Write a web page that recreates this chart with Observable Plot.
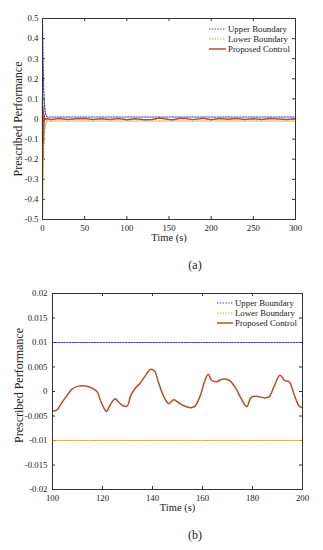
<!DOCTYPE html>
<html><head><meta charset="utf-8">
<script src="https://cdn.jsdelivr.net/npm/d3@7"></script>
<script src="https://cdn.jsdelivr.net/npm/@observablehq/plot@0.6"></script>
<style>
body{margin:0;background:#fff;}
#wrap{position:relative;width:323px;height:550px;font-family:"Liberation Serif","Times New Roman",serif;color:#222;}
.panel{position:absolute;left:0;}
.cap{position:absolute;font-size:12px;transform:translate(-50%,-50%);white-space:nowrap;}
.legend{position:absolute;font-size:8.8px;line-height:10px;}
.legend div{display:flex;align-items:center;height:10px;white-space:nowrap;}
.legend svg{margin-right:2px;}
</style></head><body><div id="wrap"></div>
<script>
// ---------- data ----------
const seriesNames = ["Upper Boundary", "Lower Boundary", "Proposed Control"];
const seriesColors = ["#3a3acf", "#d9a23a", "#b0502e"];

// Panel (a): 0–300 s
const timeA_bound = [0, 0.5, 1, 1.5, 2, 3, 4, 5, 6, 300];
const upperA = [0.5, 0.34, 0.22, 0.14, 0.09, 0.04, 0.02, 0.013, 0.01, 0.01];
const lowerA = [-0.5, -0.34, -0.22, -0.14, -0.09, -0.04, -0.02, -0.013, -0.01, -0.01];
const timeA_ctrl = [0, 0.3, 0.6, 0.9, 1.2, 1.5, 1.9, 2.4, 3, 4, 6, 10, 20, 30, 40, 50, 60, 70, 80, 90, 100, 110, 121, 130, 139, 150, 155, 163, 170, 178, 191, 200, 210, 220, 230, 240, 250, 260, 270, 280, 290, 300];
const ctrlA = [0.1, -0.2, 0.06, -0.12, 0.04, -0.05, 0.02, -0.01, 0.004, -0.002, 0.001, -0.002, 0.002, -0.003, 0.001, 0.003, -0.002, 0.001, -0.003, 0.002, -0.004, 0.001, -0.004, -0.003, 0.0045, -0.0023, -0.0033, 0.0035, 0.0023, -0.0031, 0.0033, -0.0033, 0.002, -0.001, 0.003, -0.002, 0.001, -0.003, 0.002, 0.0, -0.002, 0.001];

// Panel (b): 100–200 s
const timeB_bound = [100, 200];
const upperB = [0.01, 0.01];
const lowerB = [-0.01, -0.01];
const timeB = [100,101.7,103.7,105.7,107.8,110.4,113.1,115.8,117.8,119.1,120.5,121.5,123.1,125.1,126.5,128.2,129.8,131.4,133.2,135.2,137.2,139.2,140.8,142.5,144.5,146.5,148.5,150.5,152.5,155.2,156.8,159,160.8,162.3,163.6,165.6,167.9,170.6,173.3,175.3,177.7,179.5,182,184.6,186.6,188.6,191,192.9,194.7,196.7,198.7,200];
const ctrlB = [-0.0040,-0.0038,-0.0023,-0.0009,0.0005,0.0011,0.0011,0.0007,0.0000,-0.0017,-0.0033,-0.0041,-0.0027,-0.0015,-0.0022,-0.0029,-0.0030,-0.0007,0.0007,0.0018,0.0033,0.0045,0.0042,0.0017,-0.0010,-0.0025,-0.0017,-0.0023,-0.0029,-0.0033,-0.0031,-0.0010,0.0020,0.0035,0.0023,0.0020,0.0025,0.0023,0.0007,-0.0013,-0.0031,-0.0012,-0.0010,-0.0013,-0.0011,0.0010,0.0033,0.0022,0.0020,-0.0007,-0.0030,-0.0033];

const xTicksA = [0, 50, 100, 150, 200, 250, 300];
const yTicksA = [-0.5, -0.4, -0.3, -0.2, -0.1, 0, 0.1, 0.2, 0.3, 0.4, 0.5];
const xTicksB = [100, 120, 140, 160, 180, 200];
const yTicksB = [-0.02, -0.015, -0.01, -0.005, 0, 0.005, 0.01, 0.015, 0.02];

// ---------- drawing ----------
const fmt = d => String(+d.toFixed(4)).replace("\u2212", "-");
const zip = (t, v) => t.map((x, i) => ({t: x, v: v[i]}));

function panel(o) {
  const innerW = 323 - o.ml - o.mr, innerH = o.height - o.mt - o.mb;
  const ax = "#333";
  return Plot.plot({
    width: 323, height: o.height,
    marginTop: o.mt, marginBottom: o.mb, marginLeft: o.ml, marginRight: o.mr,
    style: {fontFamily: "'Liberation Serif', 'Times New Roman', serif", fontSize: "8.8px", background: "white", color: "#222", overflow: "visible"},
    x: {domain: o.xDomain, label: null},
    y: {domain: o.yDomain, label: null},
    marks: [
      Plot.axisX({ticks: o.xTicks, tickSize: 0, tickPadding: o.xPad, tickFormat: fmt, label: null}),
      Plot.axisY({ticks: o.yTicks, tickSize: 0, tickPadding: o.yPad, tickFormat: fmt, label: null}),
      Plot.tickX(o.xTicks, {x: d => d, insetTop: innerH - 3, stroke: ax}),
      Plot.tickX(o.xTicks, {x: d => d, insetBottom: innerH - 3, stroke: ax}),
      Plot.tickY(o.yTicks, {y: d => d, insetRight: innerW - 3, stroke: ax}),
      Plot.tickY(o.yTicks, {y: d => d, insetLeft: innerW - 3, stroke: ax}),
      Plot.line(zip(o.tb, o.up), {x: "t", y: "v", stroke: seriesColors[0], strokeWidth: 1.2, strokeDasharray: "1.4,1.4"}),
      Plot.line(zip(o.tb, o.lo), {x: "t", y: "v", stroke: seriesColors[1], strokeWidth: 1.2, strokeDasharray: "1.4,1.4"}),
      Plot.line(zip(o.tc, o.ctrl), {x: "t", y: "v", stroke: seriesColors[2], strokeWidth: 1.5, curve: o.curve}),
      Plot.frame({stroke: ax, strokeWidth: 1}),
      Plot.text(["Time (s)"], {frameAnchor: "bottom", dy: 21, fontSize: 10.5, text: d => d}),
      Plot.text(["Prescribed Performance"], {frameAnchor: "left", textAnchor: "middle", dx: o.ylabDx, dy: o.ylabDy, rotate: -90, fontSize: 12, text: d => d})
    ]
  });
}

function legend(x, y, lineW) {
  const div = document.createElement("div");
  div.className = "legend";
  div.style.left = x + "px";
  div.style.top = y + "px";
  seriesNames.forEach((name, i) => {
    const row = document.createElement("div");
    const dash = i < 2 ? 'stroke-dasharray="1.4,1.4"' : "";
    const sw = i < 2 ? 1.2 : 1.5;
    row.innerHTML = `<svg width="${lineW}" height="4"><line x1="0" y1="2" x2="${lineW}" y2="2" stroke="${seriesColors[i]}" stroke-width="${sw}" ${dash}/></svg><span>${name}</span>`;
    div.appendChild(row);
  });
  return div;
}

const wrap = document.getElementById("wrap");

const pa = panel({height: 250, mt: 18, mb: 31, ml: 42, mr: 28, xDomain: [0, 300], yDomain: [-0.5, 0.5],
  xTicks: xTicksA, yTicks: yTicksA, xPad: 5, yPad: 4, ylabDx: -24.5, ylabDy: 0,
  tb: timeA_bound, up: upperA, lo: lowerA, tc: timeA_ctrl, ctrl: ctrlA, curve: "linear"});
pa.classList.add("panel"); pa.style.top = "0px";
wrap.appendChild(pa);

const pb = panel({height: 240, mt: 13, mb: 31, ml: 52, mr: 21, xDomain: [100, 200], yDomain: [-0.02, 0.02],
  xTicks: xTicksB, yTicks: yTicksB, xPad: 5, yPad: 5, ylabDx: -33, ylabDy: -6,
  tb: timeB_bound, up: upperB, lo: lowerB, tc: timeB, ctrl: ctrlB, curve: "catmull-rom"});
pb.classList.add("panel"); pb.style.top = "280px";
wrap.appendChild(pb);

wrap.appendChild(legend(209, 24, 17));
wrap.appendChild(legend(217, 298, 16));

const capA = document.createElement("div"); capA.className = "cap"; capA.textContent = "(a)";
capA.style.left = "195px"; capA.style.top = "265px"; wrap.appendChild(capA);
const capB = document.createElement("div"); capB.className = "cap"; capB.textContent = "(b)";
capB.style.left = "195px"; capB.style.top = "535px"; wrap.appendChild(capB);
</script>
</body></html>
